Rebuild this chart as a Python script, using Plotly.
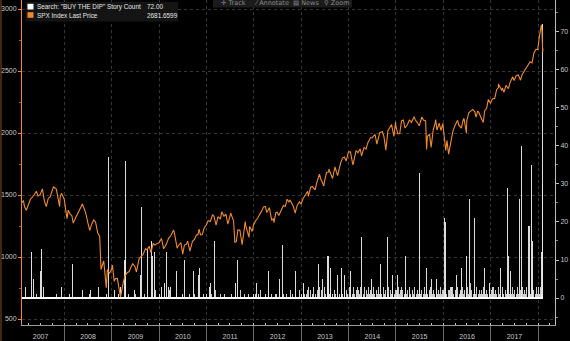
import plotly.graph_objects as go
from datetime import date, timedelta

# ---------------- data ----------------
spx_dates = [
    "2007-02-09","2007-02-20","2007-02-28","2007-03-14","2007-03-30","2007-04-16","2007-04-30","2007-05-15","2007-05-31",
    "2007-06-12","2007-06-29","2007-07-16","2007-07-31","2007-08-15","2007-08-31","2007-09-14","2007-09-28","2007-10-09",
    "2007-10-31","2007-11-15","2007-11-26","2007-11-30","2007-12-10","2007-12-31",
    "2008-01-22","2008-01-31","2008-02-14","2008-02-29","2008-03-10","2008-03-31","2008-04-15","2008-04-30","2008-05-19",
    "2008-05-30","2008-06-13","2008-06-30","2008-07-15","2008-07-31","2008-08-15","2008-08-29","2008-09-15","2008-09-30",
    "2008-10-10","2008-10-31","2008-11-20","2008-11-28","2008-12-15","2008-12-31",
    "2009-01-06","2009-01-20","2009-01-30","2009-02-13","2009-02-27","2009-03-09","2009-03-31","2009-04-15","2009-04-30",
    "2009-05-15","2009-05-29","2009-06-12","2009-06-30","2009-07-10","2009-07-31","2009-08-14","2009-08-31","2009-09-18",
    "2009-09-30","2009-10-16","2009-10-30","2009-11-16","2009-11-30","2009-12-15","2009-12-31",
    "2010-01-19","2010-02-05","2010-02-26","2010-03-15","2010-03-31","2010-04-23","2010-04-30","2010-05-20","2010-05-28",
    "2010-06-18","2010-07-02","2010-07-15","2010-07-30","2010-08-09","2010-08-26","2010-09-15","2010-09-30","2010-10-15",
    "2010-10-29","2010-11-05","2010-11-16","2010-11-30","2010-12-15","2010-12-31",
    "2011-01-14","2011-01-31","2011-02-18","2011-02-28","2011-03-16","2011-03-31","2011-04-18","2011-04-29","2011-05-16",
    "2011-05-31","2011-06-15","2011-06-30","2011-07-07","2011-07-29","2011-08-08","2011-08-19","2011-08-31","2011-09-16",
    "2011-09-30","2011-10-03","2011-10-27","2011-10-31","2011-11-25","2011-11-30","2011-12-19","2011-12-30",
    "2012-01-13","2012-01-31","2012-02-15","2012-02-29","2012-03-16","2012-03-30","2012-04-10","2012-04-30","2012-05-18",
    "2012-05-31","2012-06-04","2012-06-19","2012-06-29","2012-07-12","2012-07-31","2012-08-16","2012-08-31","2012-09-14",
    "2012-09-28","2012-10-05","2012-10-31","2012-11-15","2012-11-30","2012-12-18","2012-12-31",
    "2013-01-15","2013-01-31","2013-02-19","2013-02-25","2013-03-14","2013-03-28","2013-04-18","2013-04-30","2013-05-21",
    "2013-05-31","2013-06-24","2013-06-28","2013-07-15","2013-07-31","2013-08-02","2013-08-30","2013-09-18","2013-09-30",
    "2013-10-08","2013-10-31","2013-11-15","2013-11-29","2013-12-13","2013-12-31",
    "2014-01-15","2014-02-03","2014-02-28","2014-03-14","2014-03-31","2014-04-11","2014-04-30","2014-05-15","2014-05-30",
    "2014-06-20","2014-06-30","2014-07-24","2014-08-07","2014-08-29","2014-09-18","2014-09-30","2014-10-15","2014-10-31",
    "2014-11-14","2014-11-28","2014-12-16","2014-12-29","2014-12-31",
    "2015-01-15","2015-01-30","2015-02-13","2015-02-27","2015-03-11","2015-03-31","2015-04-15","2015-04-30","2015-05-21",
    "2015-05-29","2015-06-15","2015-06-29","2015-07-20","2015-07-31","2015-08-18","2015-08-25","2015-08-31","2015-09-17",
    "2015-09-29","2015-10-15","2015-10-30","2015-11-03","2015-11-13","2015-11-30","2015-12-14","2015-12-29","2015-12-31",
    "2016-01-20","2016-01-29","2016-02-11","2016-02-29","2016-03-15","2016-03-31","2016-04-20","2016-04-29","2016-05-19",
    "2016-05-31","2016-06-08","2016-06-27","2016-06-30","2016-07-15","2016-07-29","2016-08-15","2016-08-31","2016-09-09",
    "2016-09-22","2016-09-30","2016-10-14","2016-11-04","2016-11-15","2016-11-30","2016-12-13","2016-12-30",
    "2017-01-13","2017-01-31","2017-02-15","2017-02-28","2017-03-01","2017-03-27","2017-03-31","2017-04-13","2017-04-28",
    "2017-05-17","2017-05-31","2017-06-19","2017-06-30","2017-07-14","2017-07-31","2017-08-10","2017-08-18","2017-08-31",
    "2017-09-15","2017-09-29","2017-10-13","2017-10-31","2017-11-15","2017-11-30","2017-12-15","2017-12-29",
    "2018-01-12","2018-01-26","2018-01-31","2018-02-02","2018-02-05","2018-02-06","2018-02-07",
]
spx_values = [
    1438,1456,1407,1377,1421,1468,1482,1501,1530,
    1493,1503,1549,1455,1406,1474,1484,1527,1565,
    1549,1452,1407,1481,1515,1468,
    1310,1378,1348,1331,1273,1323,1351,1386,1427,
    1400,1360,1280,1214,1267,1298,1283,1193,1166,
    899,969,752,896,868,903,
    935,805,826,827,735,677,798,852,873,
    883,919,946,919,879,987,1005,1021,1068,
    1057,1087,1036,1110,1096,1108,1115,
    1150,1066,1104,1150,1169,1217,1187,1071,1089,
    1117,1023,1096,1102,1128,1047,1126,1141,1176,
    1183,1225,1178,1181,1236,1258,
    1293,1286,1343,1327,1257,1326,1305,1364,1329,
    1345,1265,1321,1353,1292,1119,1124,1219,1216,
    1131,1099,1285,1253,1159,1247,1206,1258,
    1289,1312,1344,1366,1404,1408,1358,1398,1295,
    1310,1278,1357,1362,1334,1379,1415,1407,1466,
    1441,1461,1412,1353,1416,1446,1426,
    1472,1498,1530,1488,1563,1569,1541,1598,1669,
    1631,1573,1606,1683,1686,1710,1633,1726,1682,
    1656,1757,1798,1806,1775,1848,
    1848,1742,1859,1841,1872,1816,1884,1870,1924,
    1963,1960,1988,1910,2003,2011,1972,1862,2018,
    2039,2068,1973,2091,2059,
    1993,1995,2097,2105,2040,2068,2107,2086,2131,
    2107,2084,2058,2129,2104,2097,1868,1972,1990,
    1884,2024,2079,2109,2023,2080,2022,2078,2044,
    1859,1940,1829,1932,2015,2060,2102,2065,2040,
    2097,2119,2001,2099,2162,2174,2190,2171,2128,
    2177,2168,2133,2085,2180,2199,2271,2239,
    2275,2279,2349,2364,2396,2342,2363,2329,2384,
    2357,2412,2453,2423,2459,2470,2438,2426,2472,
    2500,2519,2553,2575,2565,2648,2675,2674,
    2786,2873,2824,2762,2649,2695,2682,
]

# daily "BUY THE DIP" story-count spikes
spike_dates = [
    "2007-03-05","2007-04-25","2007-05-07","2007-06-28","2007-07-13","2007-07-27","2007-12-10",
    "2008-03-03","2008-05-23","2008-07-24","2008-09-18","2008-12-05",
    "2009-01-23","2009-03-10","2009-04-13","2009-04-20","2009-06-24","2009-08-11","2009-08-19","2009-10-05",
    "2009-11-02","2009-11-12","2009-11-30",
    "2010-01-19","2010-02-08","2010-02-25","2010-03-18","2010-04-02","2010-05-17","2010-07-16","2010-09-21",
    "2010-10-29","2010-11-12",
    "2011-01-24","2011-02-04","2011-03-04","2011-08-11","2011-08-29",
    "2012-01-25","2012-04-27","2012-07-20","2012-08-06","2012-11-14",
    "2013-01-21","2013-05-13","2013-06-14","2013-07-26","2013-08-15","2013-10-08","2013-11-08","2013-11-29",
    "2014-01-17","2014-04-10","2014-06-25","2014-09-04","2014-10-24","2014-12-03",
    "2015-01-13","2015-03-17","2015-06-29","2015-08-27","2015-10-02","2015-11-10",
    "2016-01-08","2016-01-15","2016-03-07","2016-04-15","2016-05-23","2016-06-27","2016-07-18","2016-08-29",
    "2016-11-14","2016-12-20",
    "2017-03-17","2017-05-12","2017-05-17","2017-06-01","2017-08-09","2017-08-29","2017-10-20","2017-10-30",
    "2017-11-14","2017-11-22",
    "2018-01-30","2018-02-02","2018-02-05","2018-02-06","2018-02-07",
]
spike_counts = [
    3,12,5,7,13,3,3,
    9,2,2,3,37,
    2,3,10,36,2,6,24,13,
    15,11,12,
    3,4,12,3,3,7,10,7,
    6,8,
    3,4,15,4,10,
    4,7,5,14,7,
    4,9,5,11,8,6,8,6,
    7,16,5,9,16,6,
    6,11,33,8,5,5,
    21,20,3,6,8,11,26,21,
    8,4,
    8,29,11,7,26,40,19,19,
    35,15,
    12,18,21,30,72,
]

# typical weekly low-level story counts (one digit per week, from 1 Jan of each year)
base_years = [2007, 2008, 2009, 2010, 2011, 2012, 2013, 2014, 2015, 2016, 2017, 2018]
base_weeks = [
    "0000000000000000000001000000000000000000000100000000",
    "0000010000000000000000000001000000000000000000100000",
    "0000000100000000001000000010000000001000000000002000",
    "1000001000020000000100000100000001000010000000001000",
    "1000010000200001000100000001000010000200001000100001",
    "0100010200001000200100010100200010001000201000100020",
    "1031012030201301020130210310120130102101301021030201",
    "3120131023201310130210312013102130121031201310213012",
    "2131023201312013102130121031201312102130121031201312",
    "2131022301310213012103120131024201313012102130121031",
    "2130121031201310213012103120131021301213012103120131",
    "31312",
]

legend_labels = ['Search: "BUY THE DIP" Story Count', "SPX Index Last Price"]
legend_values = ["72.00", "2681.6599"]
toolbar_items = ["\u271b Track", "\u2044 Annotate", "\u25a4 News", "\u26b2 Zoom"]

# ---------------- build bar series ----------------
first_day = date.fromisoformat(spx_dates[0])
last_day = date.fromisoformat(spx_dates[-1])
base_x, base_y = [], []
for yr, s in zip(base_years, base_weeks):
    for i, ch in enumerate(s):
        v = int(ch)
        d = date(yr, 1, 1) + timedelta(days=7 * i + 3)
        if v > 0 and first_day <= d <= last_day:
            base_x.append(d.isoformat())
            base_y.append(v)

ORANGE = "#f28a2a"
TXT = "#c8c8c8"
FONT = "Liberation Sans, Arial, sans-serif"
DAY = 86400000

fig = go.Figure()
fig.add_trace(go.Bar(
    x=base_x, y=base_y, yaxis="y", width=7.8 * DAY,
    marker=dict(color="rgba(225,225,225,0.92)", line=dict(width=0)), showlegend=False,
))
fig.add_trace(go.Bar(
    x=spike_dates, y=spike_counts, yaxis="y", width=7.8 * DAY,
    marker=dict(color="rgba(232,232,232,0.95)", line=dict(width=0)), showlegend=False,
))
fig.add_trace(go.Scatter(
    x=spx_dates, y=spx_values, yaxis="y2", mode="lines",
    line=dict(color=ORANGE, width=1.1), showlegend=False,
))

# pixel helpers for decorations (plot area: x 22..555, y 0..325)
L, R, T, B = 22, 555, 0, 325
def px(x):
    return (x - L) / (R - L)
def py(y):
    return 1 - (y - T) / (B - T)

shapes = [
    # zero baseline of the story-count histogram
    dict(type="line", xref="x", yref="y", x0=spx_dates[0], x1=spx_dates[-1], y0=0, y1=0,
         line=dict(color="#ffffff", width=2), layer="above"),
    # legend box
    dict(type="rect", xref="paper", yref="paper", x0=px(26), x1=px(178), y0=py(21.5), y1=py(2),
         fillcolor="#141414", line=dict(width=0), layer="above"),
    dict(type="rect", xref="paper", yref="paper", x0=px(27.5), x1=px(33.5), y0=py(9.5), y1=py(3.8),
         fillcolor="#ffffff", line=dict(width=0), layer="above"),
    dict(type="rect", xref="paper", yref="paper", x0=px(27.5), x1=px(33.5), y0=py(17.8), y1=py(12.2),
         fillcolor=ORANGE, line=dict(width=0), layer="above"),
    # toolbar background
    dict(type="rect", xref="paper", yref="paper", x0=px(213), x1=px(352), y0=py(7.5), y1=py(-1),
         fillcolor="#1b1b1b", line=dict(width=0), layer="above"),
    # outer left frame line
    dict(type="line", xref="paper", yref="paper", x0=px(1), x1=px(1), y0=py(341), y1=py(0),
         line=dict(color="#8a4a1a", width=1), layer="above"),
]

annotations = []
for i, (lab, val) in enumerate(zip(legend_labels, legend_values)):
    yy = py(6.8 + 8.3 * i)
    annotations.append(dict(xref="paper", yref="paper", x=px(35), y=yy, text=lab, showarrow=False,
                            xanchor="left", yanchor="middle", font=dict(size=6.4, color="#e6e6e6", family=FONT)))
    annotations.append(dict(xref="paper", yref="paper", x=px(144.5), y=yy, text=val, showarrow=False,
                            xanchor="left", yanchor="middle", font=dict(size=6.4, color="#e6e6e6", family=FONT)))
for xpos, item in zip([219, 252, 291, 322], toolbar_items):
    annotations.append(dict(xref="paper", yref="paper", x=px(xpos), y=py(3), text=item, showarrow=False,
                            xanchor="left", yanchor="middle",
                            font=dict(size=6.5, color="#8c8c8c", family="DejaVu Sans, " + FONT)))

fig.update_layout(
    width=570, height=341,
    margin=dict(l=L, r=570 - R, t=T, b=341 - B, autoexpand=False),
    paper_bgcolor="#000000", plot_bgcolor="#000000",
    font=dict(family=FONT, size=7, color=TXT),
    bargap=0, barmode="overlay",
    showlegend=False,
    shapes=shapes, annotations=annotations,
    xaxis=dict(
        type="date", range=["2007-02-09", "2018-05-11"], automargin=False,
        tick0="2007-01-01", dtick="M12", tickformat="%Y", ticklabelmode="period",
        ticks="outside", ticklen=16, tickcolor="#6a6a6a", tickwidth=1,
        ticklabelstandoff=-11,
        showgrid=True, gridcolor="#363636", griddash="dot", gridwidth=1,
        showline=True, linecolor="#9a9a9a", linewidth=1,
        minor=dict(dtick="M3", tick0="2007-01-01", ticks="inside", ticklen=2, tickcolor="#bdbdbd", showgrid=False),
        tickfont=dict(size=7, color=TXT), zeroline=False,
    ),
    yaxis=dict(
        side="right", range=[-7.1, 78.4], tick0=0, dtick=10, automargin=False,
        ticks="outside", ticklen=3, tickcolor="#bdbdbd",
        showline=True, linecolor="#bdbdbd", linewidth=1,
        showgrid=False, zeroline=False,
        minor=dict(dtick=5, ticks="outside", ticklen=2, tickcolor="#8a8a8a"),
        tickfont=dict(size=7, color=TXT),
    ),
    yaxis2=dict(
        overlaying="y", side="left", range=[451.6, 3072.6], tick0=500, dtick=500, automargin=False,
        ticks="outside", ticklen=3, tickcolor=ORANGE,
        showline=True, linecolor=ORANGE, linewidth=1,
        showgrid=True, gridcolor="#363636", griddash="dot", gridwidth=1,
        zeroline=False,
        minor=dict(dtick=250, ticks="outside", ticklen=2, tickcolor="#a0602a"),
        tickfont=dict(size=7, color=TXT),
    ),
)

fig.write_html("out.html", config={"displayModeBar": False},
               post_script="document.body.style.margin='0px';document.body.style.background='#000';")
